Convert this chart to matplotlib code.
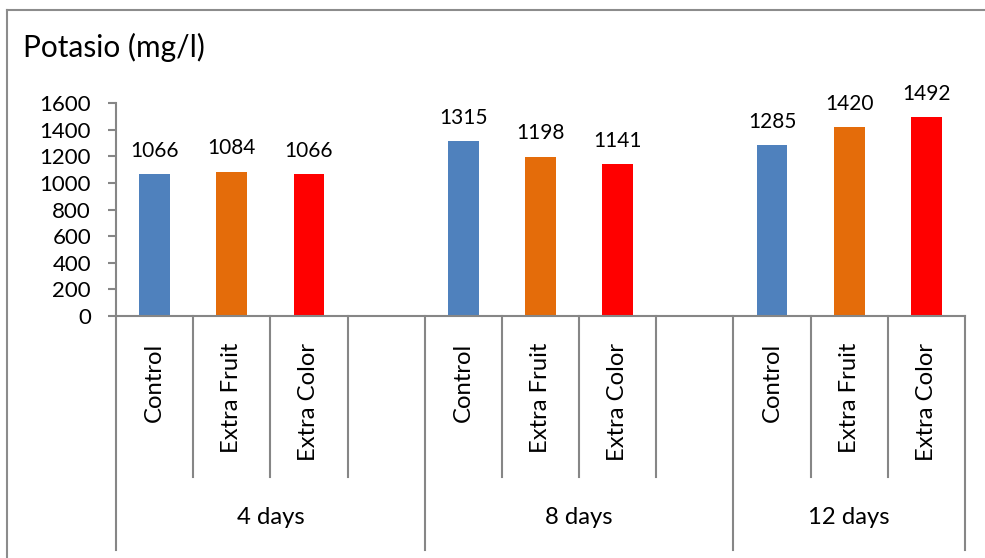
import matplotlib
matplotlib.use("Agg")
import matplotlib.pyplot as plt
from matplotlib.lines import Line2D

# Potassium content per treatment and sampling day
groups = ["4 days", "8 days", "12 days"]
treatments = ["Control", "Extra Fruit", "Extra Color"]
control = [1066, 1315, 1285]
extra_fruit = [1084, 1198, 1420]
extra_color = [1066, 1141, 1492]
yticks = [0, 200, 400, 600, 800, 1000, 1200, 1400, 1600]

plt.rcParams['font.family'] = ['Lato', 'DejaVu Sans']

W, H = 985, 558
fig = plt.figure(figsize=(W / 100, H / 100), dpi=100)
fig.patch.set_facecolor('white')

# plot area in pixel terms
x0, x1 = 116, 965
y_base, y_top = 316, 103
ax = fig.add_axes([x0 / W, (H - y_base) / H, (x1 - x0) / W, (y_base - y_top) / H])

series = [control, extra_fruit, extra_color]
colors = ['#4F81BD', '#E46C0A', '#FF0000']
slots_per_group = 4
n_slots = slots_per_group * (len(groups) - 1) + len(treatments)

for g in range(len(groups)):
    for t in range(len(treatments)):
        xc = g * slots_per_group + t + 0.5
        v = series[t][g]
        ax.bar(xc, v, width=0.40, color=colors[t], zorder=2)
        ax.annotate(str(v), (xc, v), xytext=(0, 12.5), textcoords='offset points',
                    ha='center', va='baseline', fontsize=15, color='black')

ax.set_xlim(0, n_slots)
ax.set_ylim(0, 1600)
ax.set_yticks(yticks)
ax.set_yticklabels([str(v) for v in yticks])
ax.set_xticks([])

axis_col = '#868686'
for side in ['top', 'right']:
    ax.spines[side].set_visible(False)
for side in ['left', 'bottom']:
    ax.spines[side].set_color(axis_col)
    ax.spines[side].set_linewidth(1.5)
ax.tick_params(axis='y', direction='out', length=6, width=1.5, color=axis_col,
               labelsize=16, labelcolor='black', pad=12)

# multi-level category axis
trans = ax.get_xaxis_transform()
ah = y_base - y_top
short_end = -(477 - y_base) / ah
long_end = -(550 - y_base) / ah
group_edges = [g * slots_per_group for g in range(len(groups))] + [n_slots]
for xb in range(n_slots + 1):
    end = long_end if xb in group_edges else short_end
    ax.add_line(Line2D([xb, xb], [0, end], transform=trans, color=axis_col,
                       lw=1.5, clip_on=False))

label_top = -(343 - y_base) / ah
for g in range(len(groups)):
    for t in range(len(treatments)):
        xc = g * slots_per_group + t + 0.5
        ax.text(xc, label_top, treatments[t], transform=trans, rotation=90,
                ha='center', va='top', fontsize=17.2, color='black')
    gx = (group_edges[g] + group_edges[g + 1]) / 2
    ax.text(gx, -(518 - y_base) / ah, groups[g], transform=trans,
            ha='center', va='center', fontsize=17.2, color='black')

# title and chart frame
fig.text(23 / W, 1 - 57 / H, "Potasio (mg/l)", ha='left', va='baseline',
         fontsize=21.5, color='black')
fig.add_artist(Line2D([6.5 / W, 1], [1 - 10 / H, 1 - 10 / H], color='#8C8C8C', lw=1.5))
fig.add_artist(Line2D([6.5 / W, 6.5 / W], [0, 1 - 10 / H], color='#8C8C8C', lw=1.5))

fig.savefig('out.png', dpi=100)
